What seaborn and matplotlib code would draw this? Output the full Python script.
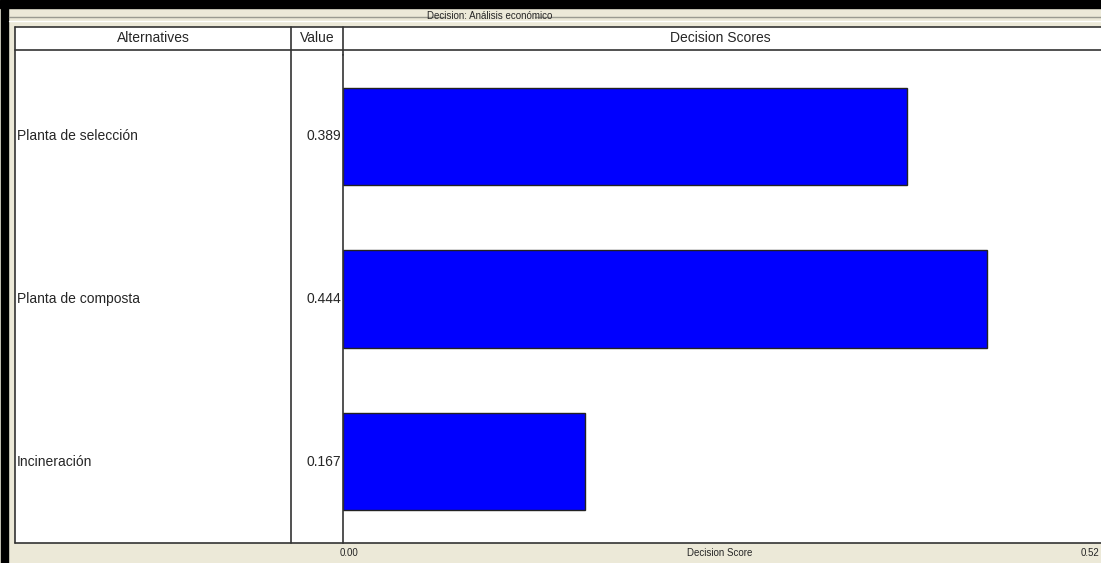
import matplotlib
matplotlib.use("Agg")
import matplotlib.pyplot as plt
import matplotlib.transforms as mtransforms
from matplotlib.patches import Rectangle
from matplotlib.lines import Line2D
import pandas as pd
import seaborn as sns

alternatives = ["Planta de selección", "Planta de composta", "Incineración"]
scores = [0.389, 0.444, 0.167]
value_labels = ["0.389", "0.444", "0.167"]
x_max = 0.52
title = "Decision: Análisis económico"

sns.set_style("white")
plt.rcParams['font.family'] = ['Liberation Sans Narrow', 'Liberation Sans', 'DejaVu Sans']

W, H = 1101, 563
fig = plt.figure(figsize=(W / 100, H / 100), dpi=100)
fig.patch.set_facecolor("#ECE9D8")


def fx(px):
    return px / W


def fy(py):
    return 1 - py / H


# black window borders
fig.add_artist(Rectangle((0, fy(8)), 1, fy(0) - fy(8), transform=fig.transFigure, color="black", zorder=0))
fig.add_artist(Rectangle((fx(1), 0), fx(8) - fx(1), fy(8), transform=fig.transFigure, color="black", zorder=0))

# group box line with title
fig.add_artist(Line2D([fx(9), fx(445)], [fy(17), fy(17)], transform=fig.transFigure, color="#9a9a90", lw=1))
fig.add_artist(Line2D([fx(535), 1], [fy(17), fy(17)], transform=fig.transFigure, color="#9a9a90", lw=1))
fig.add_artist(Line2D([fx(9), 1], [fy(21), fy(21)], transform=fig.transFigure, color="#ffffff", lw=1))
fig.text(fx(490), fy(16), title, ha="center", va="center", fontsize=7)

# white table area
fig.add_artist(Rectangle((fx(15), fy(543)), 1 - fx(15), fy(27) - fy(543),
                         transform=fig.transFigure, facecolor="white", edgecolor="none", zorder=0.5))
for xs, ys in [([fx(15), 1], [fy(27), fy(27)]),
               ([fx(15), 1], [fy(50), fy(50)]),
               ([fx(15), 1], [fy(543), fy(543)]),
               ([fx(15), fx(15)], [fy(27), fy(543)]),
               ([fx(291), fx(291)], [fy(27), fy(543)]),
               ([fx(343), fx(343)], [fy(27), fy(55)])]:
    fig.add_artist(Line2D(xs, ys, transform=fig.transFigure, color="#333333", lw=1.2))

# header labels
fig.text(fx(153), fy(38), "Alternatives", ha="center", va="center", fontsize=10)
fig.text(fx(317), fy(38), "Value", ha="center", va="center", fontsize=10)
fig.text(fx(720), fy(38), "Decision Scores", ha="center", va="center", fontsize=10)

# bar area
ax = fig.add_axes([fx(343), fy(543), fx(1097) - fx(343), fy(55) - fy(543)])
ax.set_zorder(3)
ax.patch.set_alpha(0)
df = pd.DataFrame({"alt": alternatives, "score": scores})
sns.barplot(data=df, x="score", y="alt", orient="h", color="#0000FF", saturation=1,
            edgecolor="#222222", linewidth=1, width=0.6, ax=ax)
ax.set_xlim(0, x_max)
ax.set_xticks([])
ax.set_yticks([])
ax.set_xlabel("")
ax.set_ylabel("")
for s in ["top", "right", "bottom"]:
    ax.spines[s].set_visible(False)
ax.spines["left"].set_color("#333333")
ax.spines["left"].set_linewidth(1.2)

blend = mtransforms.blended_transform_factory(fig.transFigure, ax.transData)
for i, (name, lab) in enumerate(zip(alternatives, value_labels)):
    ax.text(fx(17), i, name, transform=blend, ha="left", va="center", fontsize=10, clip_on=False)
    ax.text(fx(341), i, lab, transform=blend, ha="right", va="center", fontsize=10, clip_on=False)

# bottom scale
fig.text(fx(340), fy(553), "0.00", ha="left", va="center", fontsize=7)
fig.text(fx(720), fy(553), "Decision Score", ha="center", va="center", fontsize=7)
fig.text(fx(1099), fy(553), f"{x_max:.2f}", ha="right", va="center", fontsize=7)

fig.savefig("out.png", dpi=100, facecolor=fig.get_facecolor())
